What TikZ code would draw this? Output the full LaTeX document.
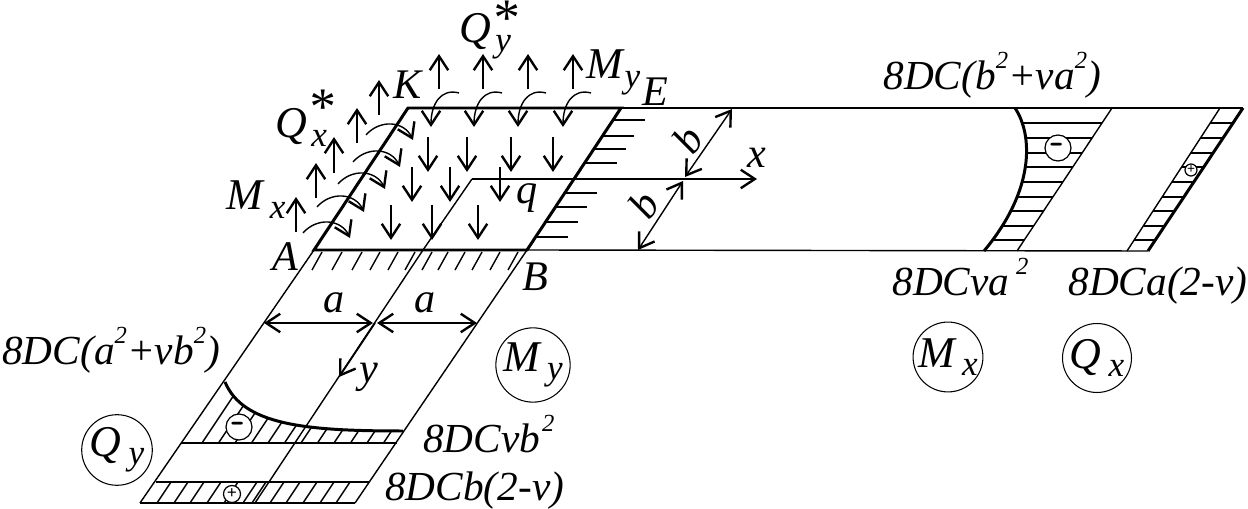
\documentclass[tikz,border=0pt]{standalone}
\usepackage{fontspec}
\setmainfont{Liberation Serif}
\usetikzlibrary{arrows.meta}
\usetikzlibrary{positioning}
\newcommand{\sbx}[1]{{\fontsize{20}{20}\selectfont\raisebox{-.24em}{#1}}}
\newcommand{\sq}{\raisebox{.52em}{\fontsize{14}{14}\selectfont 2}}
\newcommand{\qstar}[2]{Q\rlap{\kern2.5pt\sbx{#1}}{\fontsize{30}{30}\selectfont\raisebox{#2}{*}}}
\begin{document}
\begin{tikzpicture}[x=0.02cm,y=-0.02cm,>={Straight Barb[length=8pt,width=10.5pt,line width=1.35pt]},
    thin line/.style={line width=0.8pt}, thick line/.style={line width=1.7pt},
    load/.style={->,line width=0.8pt},
    lab/.style={inner sep=0pt,anchor=base west,font=\fontsize{23.5}{25}\selectfont\itshape},
    big lab/.style={inner sep=0pt,font=\fontsize{24}{25}\selectfont\itshape},
    name circle/.style={circle,draw,line width=0.6pt,inner sep=0pt,minimum size=1.38cm,font=\fontsize{25}{26}\selectfont\itshape},
    sign/.style={circle,draw,fill=white,line width=0.7pt,inner sep=0pt}]
    \useasboundingbox (0,0) rectangle (1248,509);
    % plate corners
    \coordinate (A) at (314,250);
    \coordinate (B) at (527,250);
    \coordinate (E) at (621,108);
    \coordinate (K) at (408,108);
    \coordinate (mt) at (472,179);
    \coordinate (mb) at (423,250);
    \coordinate (x tip) at (757,179);
    % long strip to the right
    \draw[thin line] (E) -- (1243,108);
    \draw[thin line] (B) -- (1148,251);
    \draw[thin line] (mt) -- (mb);
    \draw[load] (mt) -- (x tip);
    \draw[thin line] (1112,108) -- (1017,251);
    \draw[thin line] (1220,108) -- (1127,251);
    % strip going down
    \draw[thin line] (A) -- (140,503);
    \draw[thin line] (B) -- (355,503);
    \draw[thin line] (mb) -- (255,503);
    \draw[thin line] (140,503) -- (355,503);
    \draw[thin line] (156,482) -- (369,482);
    \draw[line width=1pt] (181,443) -- (397,443);
    % plate
    \draw[thick line] (A) -- (B) -- (E) -- (K) -- cycle;
    % hatch under AB
    \foreach \xx in {322,342,362,380,398,415,432,448,465,482,500,518}
      \draw[thin line] (\xx,252) -- ++(-10,18);
    % hatch right of EB
    \foreach \yy in {120,136,149,163,193,207,222,237}
      \draw[thin line] ({527+(250-\yy)*.662},\yy) -- ++(32,0);
    % Mx diagram
    \begin{scope}
      \clip (1015,108) .. controls (1033,135) and (1035,190) .. (984,251) -- (1017,251) -- (1112,108) -- cycle;
      \foreach \yy in {123,138,153,167,182,197,211,226,240}
        \draw[thin line] (980,\yy) -- (1120,\yy);
    \end{scope}
    \draw[thick line] (1015,108) .. controls (1033,135) and (1035,190) .. (984,251);
    % Qx diagram
    \begin{scope}
      \clip (1220,108) -- (1243,108) -- (1148,251) -- (1127,251) -- cycle;
      \foreach \yy in {123,138,153,167,182,197,211,226,240}
        \draw[thin line] (1120,\yy) -- (1250,\yy);
    \end{scope}
    \draw[thick line] (1243,108) -- (1148,251);
    % Qy diagram
    \begin{scope}
      \clip (225,382) .. controls (243,425) and (305,431) .. (403,431) -- (397,443) -- (181,443) -- cycle;
      \foreach \xx in {202,218.5,...,385}
        \draw[thin line] (\xx,443) -- ++(40,-60);
    \end{scope}
    \draw[line width=1.7pt] (225,382) .. controls (243,425) and (305,431) .. (403,431);
    \begin{scope}
      \clip (156,482) -- (369,482) -- (355,503) -- (140,503) -- cycle;
      \foreach \xx in {157,174,190,207,224,243,252,270,286,303,320,336}
        \draw[thin line] (\xx,503) -- ++(14,-21);
    \end{scope}
    % dimensions
    \draw[<->,thin line] (264,323) -- (373,323);
    \draw[<->,thin line] (377,323) -- (477,323);
    \draw[<->,thin line] (685,177) -- (732,109);
    \draw[<->,thin line] (683,181) -- (638,250);
    \draw[->,line width=1pt] (375,323) -- (339,377);
    % load q
    \foreach \xx/\yy in {428/137,467/137,511/137,553/137,412/167,450/167,500/167,391/205,432/205,478/205}
      \draw[load] (\xx,\yy) -- ++(0,35);
    % reactions along KE
    \foreach \xx in {439,483,528,573}
      \draw[load] (\xx,89) -- (\xx,54);
    \foreach \xx in {431,474,518,563}
      \draw[load] (\xx+28,93) .. controls (\xx+10,88) and (\xx,104) .. (\xx,127);
    % reactions along AK
    \foreach \xx/\ya/\yb in {296/232/197,316/198/163,334/173/137,357/143/108,379/115/80}
      \draw[load] (\xx,\ya) -- (\xx,\yb);
    \foreach \xx/\yy in {303/233,317/207,338/184,353/162,366/135}
      \draw[load] (\xx,\yy) .. controls (\xx+14,\yy-16) and (\xx+38,\yy-14) .. (\xx+47,\yy+5);
    % signs
    \node[sign,minimum size=26*0.02cm,font=\fontsize{22}{22}\selectfont\bfseries\sffamily] (minus y) at (239,427) {-};
    \node[sign,minimum size=17*0.02cm,font=\normalsize\bfseries] (plus y) at (232,494) {+};
    \node[sign,minimum size=26*0.02cm,font=\fontsize{22}{22}\selectfont\bfseries\sffamily] (minus x) at (1058,148) {-};
    \node[sign,minimum size=12*0.02cm,font=\footnotesize\bfseries] (plus x) at (1191,170) {+};
    % labels
    \node[big lab] (lA) at (285,257) {A};
    \node[big lab] (lB) at (535,277) {B};
    \node[big lab] (lE) at (655,92) {E};
    \node[big lab] (lK) at (408,85) {K};
    \node[big lab] (lq) at (527,198) {q};
    \node[big lab] (lx) at (757,158) {x};
    \node[big lab] (ly) at (369,377) {y};
    \node[big lab] (la1) at (334,303) {a};
    \node[big lab] (la2) at (425,303) {a};
    \node[big lab,rotate=55] (lb1) at (688,140) {b};
    \node[big lab,rotate=55] (lb2) at (644,205) {b};
    \node[big lab,anchor=base west,font=\fontsize{25}{26}\selectfont\itshape] (lMx) at (226,210) {M\kern4pt\sbx{x}};
    \node[big lab,anchor=base west,font=\fontsize{25}{26}\selectfont\itshape] (lMy) at (586,79) {M\kern1pt\sbx{y}};
    \node[big lab,anchor=base west,font=\fontsize{25}{26}\selectfont\itshape] (lQx) at (275,138) {\qstar{x}{.26em}};
    \node[big lab,anchor=base west,font=\fontsize{25}{26}\selectfont\itshape] (lQy) at (459,43) {\qstar{y}{.14em}};
    \node[lab] (t1) at (883,90) {8DC(b\sq+va\sq)};
    \node[lab] (t2) at (892,296) {8DCva\,\sq};
    \node[lab] (t3) at (1068,296) {8DCa(2-v)};
    \node[lab] (t4) at (2,365) {8DC(a\sq+vb\sq)};
    \node[lab] (t5) at (423,453) {8DCvb\kern1pt\sq};
    \node[lab] (t6) at (385,501) {8DCb(2-v)};
    % names of diagrams
    \node[name circle] (cMx) at (948,357) {M\kern4pt\sbx{x}};
    \node[name circle] (cQx) at (1097,358) {Q\kern4pt\sbx{x}};
    \node[name circle] (cMy) at (533,365) {M\kern4pt\sbx{y}};
    \node[name circle] (cQy) at (117,450) {Q\kern4pt\sbx{y}};
\end{tikzpicture}
\end{document}
